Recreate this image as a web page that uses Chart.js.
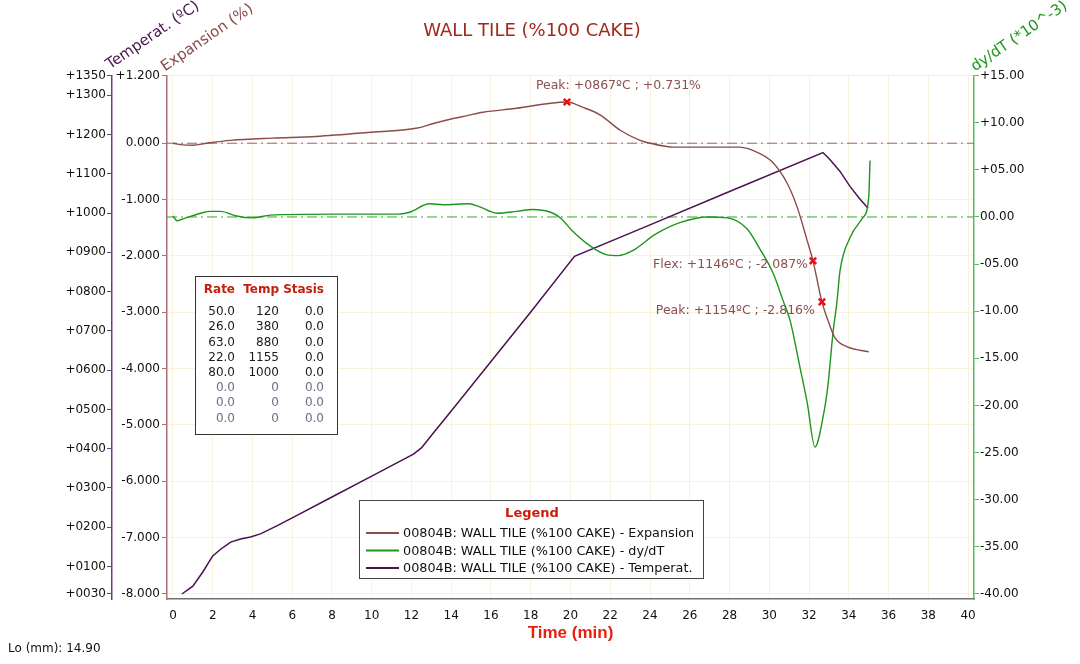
<!DOCTYPE html>
<html>
<head>
<meta charset="utf-8">
<title>WALL TILE (%100 CAKE)</title>
<script src="https://cdn.jsdelivr.net/npm/chart.js@4.4.1/dist/chart.umd.min.js"></script>
<style>
  html, body { margin: 0; padding: 0; background: #fff; }
  #myChart { display: block; }
</style>
</head>
<body>
<canvas id="myChart" width="1080" height="664"></canvas>
<script>
// --- data ---
const timeTemp = [0.45, 1.0, 1.5, 2.0, 2.4, 2.9, 3.4, 3.9, 4.4, 5.2, 6.0, 8.0, 10.0, 12.1, 12.5, 13.1, 14.0, 16.0, 18.0, 20.2, 24.0, 28.0, 32.7, 33.06, 33.56, 34.06, 34.57, 34.97];
const temperature = [30, 50, 86, 127, 144, 162, 170, 175, 183, 203, 224, 277, 330, 386, 402, 440, 496, 622, 748, 890, 970, 1055, 1154, 1136, 1106, 1068, 1035, 1012];

const timeExp = [0, 0.5, 1.0, 1.7, 2.9, 5.0, 7.2, 9.8, 12.3, 13.1, 14.0, 14.8, 15.6, 17.3, 19.0, 19.82, 20.6, 21.5, 22.5, 23.5, 24.0, 25.2, 28.5, 29.5, 30.2, 30.9, 31.4, 31.9, 32.2, 32.65, 33.0, 33.3, 33.9, 35.0];
const expansion = [0, -0.03, -0.035, 0, 0.05, 0.09, 0.12, 0.19, 0.27, 0.35, 0.43, 0.49, 0.55, 0.62, 0.71, 0.731, 0.64, 0.50, 0.23, 0.05, 0, -0.07, -0.07, -0.18, -0.35, -0.71, -1.13, -1.72, -2.087, -2.816, -3.19, -3.45, -3.61, -3.70];

const timeRate = [0, 0.2, 0.5, 1.4, 1.9, 2.4, 3.2, 4.0, 4.9, 8.0, 11.3, 11.9, 12.9, 13.6, 14.9, 15.4, 16.3, 17.3, 18.1, 19.0, 19.5, 20.1, 21.0, 21.8, 22.4, 23.1, 24.3, 25.5, 26.9, 27.9, 28.9, 29.5, 30.2, 30.7, 31.05, 31.55, 31.9, 32.3, 32.7, 32.96, 33.2, 33.41, 33.56, 34.06, 34.7, 35.0, 35.07];
const rate = [0.1, -0.4, -0.2, 0.4, 0.6, 0.6, 0.1, -0.1, 0.2, 0.3, 0.3, 0.5, 1.4, 1.3, 1.4, 1.1, 0.4, 0.6, 0.8, 0.5, -0.1, -1.5, -3.1, -4.0, -4.1, -3.6, -1.8, -0.6, 0, -0.1, -1.3, -3.3, -6.0, -8.9, -11.0, -16.0, -19.6, -24.4, -21.3, -17.7, -12.4, -8.9, -5.7, -2.2, -0.1, 2.0, 6.0];

const xTicks = [0, 2, 4, 6, 8, 10, 12, 14, 16, 18, 20, 22, 24, 26, 28, 30, 32, 34, 36, 38, 40];
const tempTicks = [30, 100, 200, 300, 400, 500, 600, 700, 800, 900, 1000, 1100, 1200, 1300, 1350];
const expTicks = [1.2, 0, -1, -2, -3, -4, -5, -6, -7, -8];
const rateTicks = [15, 10, 5, 0, -5, -10, -15, -20, -25, -30, -35, -40];

const markKind = ['Peak', 'Flex', 'Peak'];
const markTime = [19.82, 32.2, 32.65];
const markExp = [0.731, -2.087, -2.816];
const markTemp = [867, 1146, 1154];

const progRate = [50.0, 26.0, 63.0, 22.0, 80.0, 0.0, 0.0, 0.0];
const progTemp = [120, 380, 880, 1155, 1000, 0, 0, 0];
const progStasis = [0.0, 0.0, 0.0, 0.0, 0.0, 0.0, 0.0, 0.0];

const axisTitles = ['Temperat. (ºC)', 'Expansion (%)', 'dy/dT (*10^-3)'];
const sample = '00804B: WALL TILE (%100 CAKE)';
const lo = 'Lo (mm): 14.90';

// --- look ---
const family = '"DejaVu Sans", sans-serif';
const expColor = '#8c4b4b';
const rateColor = '#1c961c';
const tempColor = '#4a1250';
const gridColor = '#f8f1dc';

const pts = (xs, ys) => xs.map((x, i) => ({x: x, y: ys[i]}));
const pad = (v, n) => String(Math.abs(v)).padStart(n, '0');
const setTicks = list => scale => { scale.ticks = list.map(v => ({value: v})); };

const decorations = {
  id: 'decorations',
  afterDraw(chart) {
    const {ctx, chartArea, scales} = chart;
    ctx.save();

    // slanted axis titles
    const slanted = [
      [axisTitles[0], scales.yT.right - 2, chartArea.top - 6, tempColor],
      [axisTitles[1], scales.yE.right - 2, chartArea.top - 4, expColor],
      [axisTitles[2], scales.yD.left + 1, chartArea.top - 4, rateColor]
    ];
    ctx.font = '15px ' + family;
    ctx.textAlign = 'left';
    ctx.textBaseline = 'alphabetic';
    for (const [txt, x, y, col] of slanted) {
      ctx.save();
      ctx.translate(x, y);
      ctx.rotate(-0.6);
      ctx.fillStyle = col;
      ctx.fillText(txt, 0, 0);
      ctx.restore();
    }

    // marker labels
    const place = [{align: 'left', dx: -31, dy: -16}, {align: 'right', dx: -5, dy: 4}, {align: 'right', dx: -7, dy: 9}];
    ctx.font = '12.5px ' + family;
    ctx.fillStyle = '#8a5050';
    ctx.textBaseline = 'middle';
    markKind.forEach((k, i) => {
      const px = scales.x.getPixelForValue(markTime[i]);
      const py = scales.yE.getPixelForValue(markExp[i]);
      const sign = markExp[i] >= 0 ? '+' : '-';
      const txt = k + ': +' + pad(markTemp[i], 4) + 'ºC ; ' + sign + Math.abs(markExp[i]).toFixed(3) + '%';
      ctx.textAlign = place[i].align;
      ctx.fillText(txt, px + place[i].dx, py + place[i].dy);
    });

    // heating programme table
    ctx.fillStyle = '#fff';
    ctx.fillRect(195.5, 276.5, 142, 158);
    ctx.strokeStyle = '#333';
    ctx.lineWidth = 1;
    ctx.strokeRect(195.5, 276.5, 142, 158);
    const cols = [235, 279, 324];
    ctx.textAlign = 'right';
    ctx.font = 'bold 12px ' + family;
    ctx.fillStyle = '#c3200e';
    ['Rate', 'Temp', 'Stasis'].forEach((h, i) => ctx.fillText(h, cols[i], 290));
    ctx.font = '12px ' + family;
    progRate.forEach((r, i) => {
      const y = 312 + i * 15.2;
      ctx.fillStyle = r > 0 ? '#1a1a1a' : '#6c6c8c';
      ctx.fillText(r.toFixed(1), cols[0], y);
      ctx.fillText(String(progTemp[i]), cols[1], y);
      ctx.fillText(progStasis[i].toFixed(1), cols[2], y);
    });

    // legend box
    ctx.fillStyle = '#fff';
    ctx.fillRect(359.5, 500.5, 344, 78);
    ctx.strokeStyle = '#444';
    ctx.strokeRect(359.5, 500.5, 344, 78);
    ctx.textAlign = 'center';
    ctx.font = 'bold 13px ' + family;
    ctx.fillStyle = '#cc1a0a';
    ctx.fillText('Legend', 532, 514);
    ctx.textAlign = 'left';
    ctx.font = '12.8px ' + family;
    chart.data.datasets.slice(0, 3).forEach((ds, i) => {
      const y = 533 + i * 17.5;
      ctx.strokeStyle = ds.borderColor;
      ctx.lineWidth = 2;
      ctx.beginPath();
      ctx.moveTo(366, y);
      ctx.lineTo(399, y);
      ctx.stroke();
      ctx.fillStyle = '#111';
      ctx.fillText(ds.label, 403, y + 1);
    });

    // specimen length
    ctx.font = '12px ' + family;
    ctx.fillStyle = '#111';
    ctx.fillText(lo, 8, 649);
    ctx.restore();
  }
};

const ctx = document.getElementById('myChart').getContext('2d');

const data = {
  datasets: [
    {
      label: sample + ' - Expansion',
      data: pts(timeExp, expansion),
      yAxisID: 'yE',
      borderColor: expColor,
      borderWidth: 1.4,
      pointRadius: 0,
      cubicInterpolationMode: 'monotone',
      order: 1
    },
    {
      label: sample + ' - dy/dT',
      data: pts(timeRate, rate),
      yAxisID: 'yD',
      borderColor: rateColor,
      borderWidth: 1.4,
      pointRadius: 0,
      cubicInterpolationMode: 'monotone',
      order: 1
    },
    {
      label: sample + ' - Temperat.',
      data: pts(timeTemp, temperature),
      yAxisID: 'yT',
      borderColor: tempColor,
      borderWidth: 1.5,
      pointRadius: 0,
      tension: 0,
      order: 1
    },
    {
      label: 'marks',
      type: 'scatter',
      data: pts(markTime, markExp),
      yAxisID: 'yE',
      pointStyle: 'crossRot',
      pointRadius: 4.5,
      pointBorderWidth: 2.5,
      borderColor: '#e8101a',
      backgroundColor: '#e8101a',
      order: 0
    },
    {
      label: 'expansion zero',
      data: pts([-0.3, 40.3], [0, 0]),
      yAxisID: 'yE',
      borderColor: '#a06464',
      borderWidth: 1,
      borderDash: [10, 4, 2, 4],
      pointRadius: 0,
      order: 2
    },
    {
      label: 'dy/dT zero',
      data: pts([-0.3, 40.3], [0, 0]),
      yAxisID: 'yD',
      borderColor: '#35a535',
      borderWidth: 1,
      borderDash: [10, 4, 2, 4],
      pointRadius: 0,
      order: 2
    }
  ]
};

const tickFont = {family: family, size: 12};

const config = {
  type: 'line',
  data: data,
  options: {
    responsive: false,
    animation: false,
    devicePixelRatio: 1,
    layout: {padding: {left: 20, right: 36, top: 0, bottom: 0}},
    plugins: {
      legend: {display: false},
      tooltip: {enabled: false},
      title: {
        display: true,
        text: 'WALL TILE (%100 CAKE)',
        color: '#a3281a',
        font: {family: family, size: 18, weight: 'normal'},
        padding: {top: 21, bottom: 33}
      }
    },
    scales: {
      x: {
        type: 'linear',
        min: -0.3,
        max: 40.3,
        afterBuildTicks: setTicks(xTicks),
        afterFit: s => { s.height = 65; },
        grid: {color: gridColor, drawTicks: false},
        border: {color: '#707070', width: 1.5},
        ticks: {color: '#111', font: tickFont, padding: 10, maxRotation: 0, autoSkip: false},
        title: {
          display: true,
          text: 'Time (min)',
          color: '#e8200c',
          font: {family: '"Liberation Sans", sans-serif', size: 17, weight: 'bold'},
          padding: {top: 0, bottom: 20}
        }
      },
      yT: {
        type: 'linear',
        position: 'left',
        weight: 2,
        min: 17.26,
        max: 1350,
        afterBuildTicks: setTicks(tempTicks),
        afterFit: s => { s.width = 92; },
        grid: {drawOnChartArea: false, tickColor: '#6d3d7d', tickLength: 5},
        border: {color: '#6d3d7d', width: 1.5},
        ticks: {color: '#111', font: tickFont, padding: 1, autoSkip: false,
          callback: v => '+' + pad(v, 4)}
      },
      yE: {
        type: 'linear',
        position: 'left',
        weight: 1,
        min: -8.0888,
        max: 1.2,
        afterBuildTicks: setTicks(expTicks),
        afterFit: s => { s.width = 55; },
        grid: {color: gridColor, tickColor: '#a87070', tickLength: 5},
        border: {color: '#a87070', width: 1.5},
        ticks: {color: '#111', font: tickFont, padding: 2, autoSkip: false,
          callback: v => (v > 0 ? '+' : '') + v.toFixed(3)}
      },
      yD: {
        type: 'linear',
        position: 'right',
        min: -40.531,
        max: 15,
        afterBuildTicks: setTicks(rateTicks),
        afterFit: s => { s.width = 70; },
        grid: {drawOnChartArea: false, tickColor: '#5cb85c', tickLength: 5},
        border: {color: '#5cb85c', width: 1.5},
        ticks: {color: '#111', font: tickFont, padding: 1, autoSkip: false,
          callback: v => (v > 0 ? '+' : v < 0 ? '-' : '') + pad(v, 2) + '.00'}
      }
    }
  },
  plugins: [decorations]
};

const myChart = new Chart(ctx, config);
</script>
</body>
</html>
